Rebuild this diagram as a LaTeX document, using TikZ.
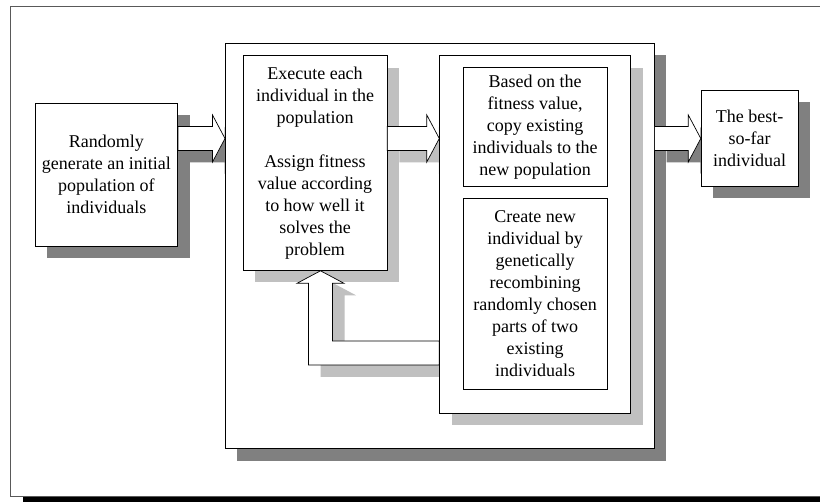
\documentclass[tikz,border=0pt]{standalone}
\usepackage{fontspec}
\setmainfont{Liberation Serif}
\usetikzlibrary{calc,shadows}

\definecolor{shdark}{HTML}{808080}
\definecolor{shlight}{HTML}{C0C0C0}

% right-pointing block arrow: style, shaft start, tip
\newcommand{\harrow}[3]{%
  \path[blockarr,#1] let \p1=(#2), \p2=(#3) in
    (\x1,\y1+12pt) -- (\x2-12.5pt,\y1+12pt) -- (\x2-12.5pt,\y1+23.5pt) -- (\x2,\y1)
    -- (\x2-12.5pt,\y1-23.5pt) -- (\x2-12.5pt,\y1-12pt) -- (\x1,\y1-12pt) -- cycle;}

\begin{document}
\begin{tikzpicture}[x=1pt,y=-1pt,
    box/.style={draw,line width=0.8pt,fill=white,align=center,anchor=north west,
      inner sep=2pt,font=\fontsize{18}{22}\selectfont},
    darkshadow/.style={drop shadow={shadow xshift=12pt,shadow yshift=-12pt,fill=shdark,opacity=1}},
    lightshadow/.style={drop shadow={shadow xshift=12pt,shadow yshift=-12pt,fill=shlight,opacity=1}},
    blockarr/.style={draw,line width=0.7pt,fill=white}]
  \useasboundingbox (0,0) rectangle (820,502);
  % frame
  \draw[line width=0.9pt,black!65] (820,6.7) -- (10.7,6.7) -- (10.7,496) -- (820,496);
  \fill[black] (23,497) rectangle (820,502);

  \coordinate (lvl) at (0,138.5);
  \node[box,darkshadow,minimum width=142.8pt,minimum height=143.3pt] (init) at (34.5,102.7)
    {Randomly\\generate an initial\\population of\\individuals};
  \coordinate (loopin) at (225,138.5);
  \harrow{darkshadow}{init.east |- lvl}{loopin}
  \node[box,darkshadow,minimum width=428.8pt,minimum height=405.6pt] (loop) at (loopin |- 0,42.7) {};

  \coordinate (bestin) at (700.8,138.5);
  \harrow{darkshadow}{loop.east |- lvl}{bestin}
  \node[box,darkshadow,minimum width=96.8pt,minimum height=96pt] (best) at (bestin |- 0,90)
    {The best-\\so-far\\individual};

  \node[box,lightshadow,minimum width=143.8pt,minimum height=214.7pt] (eval) at (242.7,55.3)
    {Execute each\\individual in the\\population\\[22pt]Assign fitness\\value according\\to how well it\\solves the\\problem};
  \coordinate (breedin) at (439.3,138.5);
  \harrow{lightshadow}{eval.east |- lvl}{breedin}

  % loop back to the evaluation step
  \coordinate (back) at (320.5,353);
  \path[blockarr,lightshadow] let \p1=(breedin |- back), \p2=(eval.south -| back) in
    (\x1,\y1+12pt) -- (\x2+12pt,\y1+12pt) -- (\x2+12pt,\y2-12.5pt) -- (\x2+23.5pt,\y2-12.5pt)
    -- (\x2,\y2) -- (\x2-23.5pt,\y2-12.5pt) -- (\x2-12pt,\y2-12.5pt) -- (\x2-12pt,\y1-12pt)
    -- (\x1,\y1-12pt) -- cycle;

  \node[box,lightshadow,minimum width=190.9pt,minimum height=357.4pt] (breed) at (breedin |- 0,55.3) {};
  \node[box,minimum width=143.8pt,minimum height=119.3pt] (copy) at (462.9,66.7)
    {Based on the\\fitness value,\\copy existing\\individuals to the\\new population};
  \node[box,minimum width=143.8pt,minimum height=190.7pt] (cross) at (462.9,198.3)
    {Create new\\individual by\\genetically\\recombining\\randomly chosen\\parts of two\\existing\\individuals};
\end{tikzpicture}
\end{document}
